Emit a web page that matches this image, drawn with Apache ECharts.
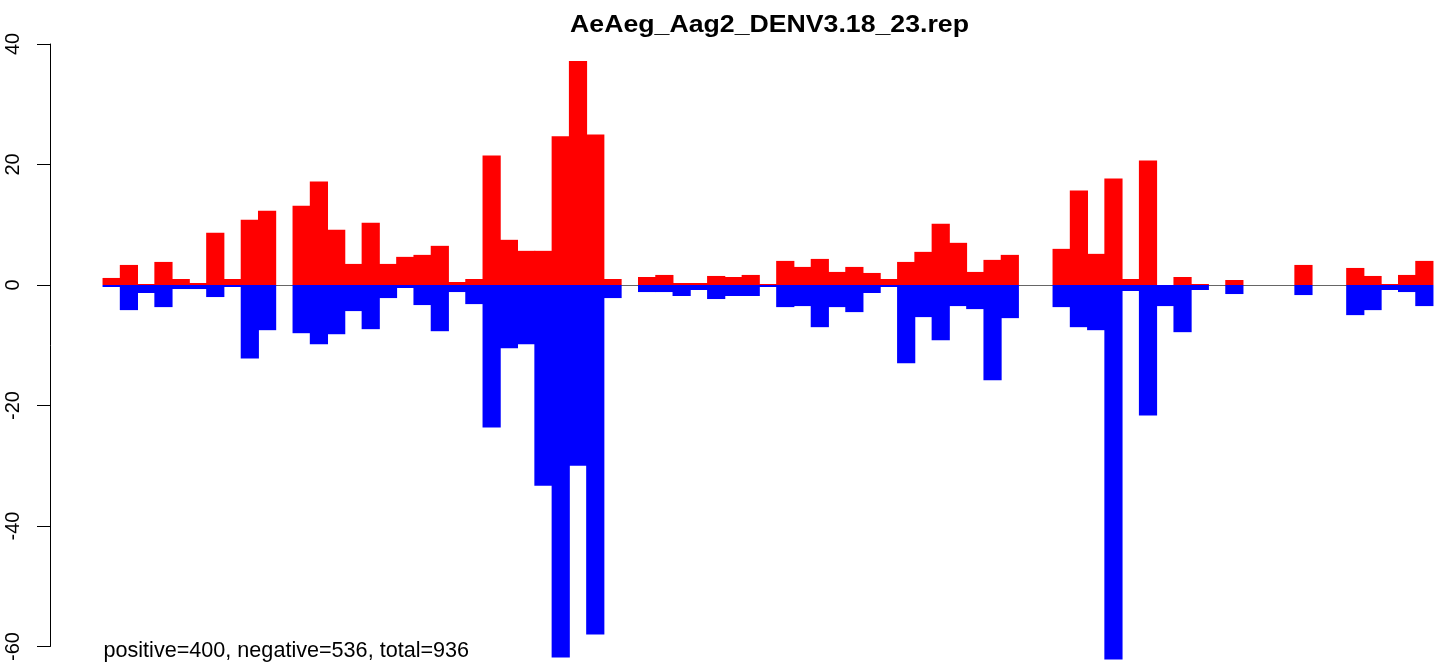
<!DOCTYPE html>
<html>
<head>
<meta charset="utf-8">
<script src="https://cdn.jsdelivr.net/npm/echarts@6/dist/echarts.min.js"></script>
<style>
html,body{margin:0;padding:0;background:#fff;}
#chart{width:1439px;height:664px;}
</style>
</head>
<body>
<div id="chart"></div>
<script>
var titleText = "AeAeg_Aag2_DENV3.18_23.rep";
var noteText = "positive=400, negative=536, total=936";
var yTicks = [-60, -40, -20, 0, 20, 40];
var positiveValues = [1.17,3.33,0.17,3.83,1.0,0.33,8.67,1.0,10.83,12.33,0,13.17,17.17,9.17,3.5,10.33,3.5,4.67,5.0,6.5,0.5,1.0,21.5,7.5,5.67,5.67,24.67,37.17,25.0,1.0,0,1.33,1.67,0.33,0.33,1.5,1.33,1.67,0.17,4.0,3.0,4.33,2.17,3.0,2.0,1.0,3.83,5.5,10.17,7.0,2.17,4.17,5.0,0,0,6.0,15.67,5.17,17.67,1.0,20.67,0,1.33,0.17,0,0.83,0,0,0,3.33,0,0,2.83,1.5,0.17,1.67,4.0];
var negativeValues = [-0.33,-4.17,-1.33,-3.67,-0.67,-0.67,-2.0,-0.33,-12.2,-7.5,0,-8.0,-9.83,-8.17,-4.33,-7.33,-2.17,-0.5,-3.33,-7.67,-1.17,-3.17,-23.67,-10.5,-9.83,-33.33,-61.83,-30.0,-58.0,-2.17,0,-1.17,-1.17,-1.83,-0.83,-2.33,-1.83,-1.83,-0.33,-3.67,-3.5,-7.0,-3.67,-4.5,-1.33,-0.33,-13.0,-5.33,-9.17,-3.5,-4.0,-15.8,-5.5,0,0,-3.67,-7.0,-7.5,-62.17,-1.0,-21.67,-3.5,-7.83,-0.83,0,-1.5,0,0,0,-1.67,0,0,-5.0,-4.17,-0.83,-1.17,-3.5];
var categories = positiveValues.map(function(_, i){ return String(i + 1); });

function barData(values){
  return values.map(function(v){ return v === 0 ? '-' : v; });
}

var chart = echarts.init(document.getElementById('chart'), null, {renderer:'canvas'});
var FONT = '"Liberation Sans", Arial, Helvetica, sans-serif';
chart.setOption({
  animation: false,
  backgroundColor: '#ffffff',
  grid: {left: 103, right: 6, top: 44, bottom: 17.5, containLabel: false},
  xAxis: {
    type: 'category',
    data: categories,
    show: false
  },
  yAxis: {
    type: 'value',
    min: yTicks[0],
    max: yTicks[yTicks.length - 1],
    interval: 20,
    offset: 53,
    axisLine: {show: true, lineStyle: {color: '#000', width: 1}},
    axisTick: {show: true, length: 13, lineStyle: {color: '#000', width: 1}},
    splitLine: {show: false},
    axisLabel: {
      rotate: 90,
      margin: 27,
      fontSize: 20,
      color: '#000',
      fontFamily: FONT
    }
  },
  series: [
    {
      type: 'bar',
      name: 'positive',
      stack: 'total',
      z: 3,
      data: barData(positiveValues),
      barWidth: 18.2,
      clip: false,
      itemStyle: {color: '#ff0000'},
      markLine: {
        silent: true,
        z: 1,
        symbol: ['none', 'none'],
        label: {show: false},
        lineStyle: {color: '#666666', width: 1, type: 'solid'},
        data: [{yAxis: 0}]
      }
    },
    {
      type: 'bar',
      name: 'negative',
      stack: 'total',
      z: 3,
      data: barData(negativeValues),
      barWidth: 18.2,
      clip: false,
      itemStyle: {color: '#0000ff'}
    }
  ],
  graphic: [
    {
      type: 'text',
      x: 769.5,
      y: 25.5,
      scaleX: 1.16,
      style: {
        text: titleText,
        font: 'bold 23px ' + FONT,
        textAlign: 'center',
        textVerticalAlign: 'middle',
        fill: '#000'
      }
    },
    {
      type: 'text',
      x: 103.5,
      y: 651,
      style: {
        text: noteText,
        font: '21.6px ' + FONT,
        textAlign: 'left',
        textVerticalAlign: 'middle',
        fill: '#000'
      }
    }
  ]
});
</script>
</body>
</html>
